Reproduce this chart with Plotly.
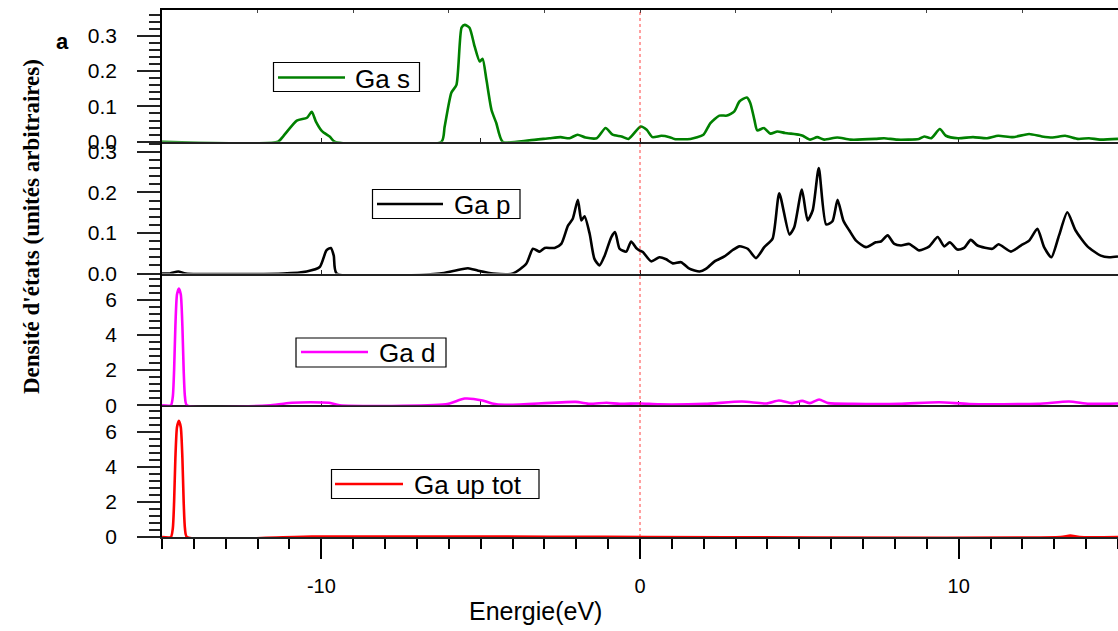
import plotly.graph_objects as go

# ---------------- data ----------------
ga_s_E = [-15.0, -11.36, -11.21, -10.77, -10.45, -10.30, -10.17, -9.98, -9.73, -9.58,
          -6.23, -6.13, -5.92, -5.76, -5.60, -5.50, -5.35, -5.19, -5.03, -4.94, -4.82,
          -4.66, -4.51, -4.31, -3.47, -2.84, -2.49, -2.21, -1.96, -1.71, -1.36, -1.08,
          -0.86, -0.58, -0.36, 0.02, 0.21, 0.39, 0.67, 0.93, 1.08, 1.58, 1.99, 2.21,
          2.49, 2.73, 2.96, 3.12, 3.35, 3.46, 3.59, 3.68, 3.89, 4.09, 4.31, 4.55, 5.00,
          5.11, 5.34, 5.56, 5.78, 6.19, 6.60, 7.38, 7.66, 8.07, 8.75, 8.92, 9.14, 9.41,
          9.60, 9.98, 10.45, 10.89, 11.24, 11.70, 12.21, 12.61, 12.95, 13.34, 13.75,
          14.09, 14.43, 15.0]
ga_s_dos = [0, 0, 0.014, 0.060, 0.068, 0.085, 0.057, 0.030, 0.014, 0.0,
            0, 0.043, 0.139, 0.161, 0.323, 0.331, 0.323, 0.27, 0.227, 0.235, 0.176,
            0.09, 0.053, 0.0, 0.004, 0.010, 0.013, 0.010, 0.020, 0.012, 0.010, 0.039,
            0.020, 0.015, 0.008, 0.043, 0.034, 0.013, 0.017, 0.013, 0.008, 0.008, 0.020, 0.053,
            0.074, 0.074, 0.086, 0.114, 0.125, 0.110, 0.062, 0.032, 0.039, 0.023, 0.029, 0.025, 0.020,
            0.017, 0.006, 0.013, 0.006, 0.012, 0.006, 0.008, 0.010, 0.006, 0.008, 0.015, 0.010, 0.036,
            0.017, 0.010, 0.013, 0.010, 0.017, 0.013, 0.022, 0.015, 0.012, 0.017, 0.008,
            0.010, 0.006, 0.008]

ga_p_E = [-15.0, -14.75, -14.49, -14.25, -11.2, -10.46, -10.05, -9.84, -9.70, -9.61, -9.52,
          -6.29, -5.82, -5.40, -5.08, -4.61, -3.99, -3.57, -3.36, -3.15, -2.99, -2.68,
          -2.47, -2.26, -2.11, -1.95, -1.84, -1.74, -1.58, -1.43, -1.27, -1.11, -0.90,
          -0.78, -0.64, -0.43, -0.28, -0.12, -0.02, 0.09, 0.35, 0.61, 0.82, 1.03, 1.29,
          1.55, 1.87, 2.08, 2.34, 2.65, 2.91, 3.12, 3.38, 3.64, 3.90, 4.16, 4.37, 4.69,
          4.84, 5.08, 5.26, 5.42, 5.61, 5.84, 6.04, 6.20, 6.38, 6.57, 6.78, 7.09, 7.40,
          7.56, 7.77, 7.98, 8.19, 8.45, 8.76, 9.08, 9.34, 9.55, 9.72, 9.96, 10.17, 10.38,
          10.59, 11.06, 11.25, 11.64, 11.95, 12.21, 12.47, 12.68, 12.91, 13.15, 13.41,
          13.67, 14.04, 14.46, 14.72, 15.0]
ga_p_dos = [0, 0, 0.005, 0, 0, 0.005, 0.016, 0.057, 0.063, 0.044, 0.0,
            0, 0.007, 0.013, 0.007, 0, 0, 0.024, 0.061, 0.054, 0.063, 0.063,
            0.073, 0.118, 0.135, 0.182, 0.131, 0.141, 0.098, 0.036, 0.020, 0.044, 0.090,
            0.102, 0.061, 0.054, 0.079, 0.063, 0.057, 0.053, 0.030, 0.040, 0.035, 0.025, 0.028,
            0.012, 0.005, 0.012, 0.030, 0.042, 0.058, 0.067, 0.061, 0.038, 0.065, 0.086, 0.198, 0.096,
            0.114, 0.207, 0.131, 0.156, 0.260, 0.121, 0.129, 0.182, 0.131, 0.106, 0.081, 0.065, 0.077,
            0.079, 0.094, 0.073, 0.069, 0.073, 0.057, 0.067, 0.090, 0.067, 0.077, 0.059, 0.063, 0.083,
            0.069, 0.061, 0.072, 0.054, 0.069, 0.081, 0.110, 0.065, 0.040, 0.094, 0.151,
            0.106, 0.067, 0.044, 0.040, 0.042]

ga_d_E = [-15.0, -14.72, -14.66, -14.62, -14.58, -14.53, -14.47, -14.41, -14.36, -14.32,
          -14.28, -14.22, -11.6, -10.92, -10.34, -9.77, -9.42, -6.10, -5.50, -4.94, -4.64,
          -4.25, -2.02, -1.58, -1.05, -0.64, 0.0, 0.6, 2.04, 3.2, 3.97, 4.36, 4.75, 5.09,
          5.33, 5.62, 5.91, 6.68, 8.13, 9.39, 10.33, 12.49, 13.46, 14.09, 15.0]
ga_d_dos = [0, 0, 0.5, 2.0, 4.5, 6.3, 6.65, 6.3, 4.5, 2.0,
            0.5, 0, 0, 0.14, 0.17, 0.14, 0, 0.05, 0.38, 0.27, 0.1,
            0.02, 0.19, 0.08, 0.14, 0.08, 0.1, 0.05, 0.08, 0.21, 0.1, 0.27, 0.12, 0.25,
            0.12, 0.33, 0.12, 0.08, 0.08, 0.17, 0.07, 0.08, 0.21, 0.08, 0.1]

ga_tot_E = [-15.0, -14.72, -14.66, -14.62, -14.58, -14.53, -14.47, -14.41, -14.36, -14.32,
            -14.28, -14.22, -10.3, -5.5, 13.2, 13.5, 13.8, 15.0]
ga_tot_dos = [0, 0, 0.5, 2.0, 4.5, 6.25, 6.62, 6.25, 4.5, 2.0,
              0.5, 0, 0.02, 0.03, 0.0, 0.08, 0.0, 0.0]

legend_names = ["Ga s", "Ga p", "Ga d", "Ga up tot"]
colors = ["#008000", "#000000", "#FF00FF", "#FF0000"]

x_tick_vals = [-10, 0, 10]
x_tick_text = ["-10", "0", "10"]
y_ticks_small = [0.0, 0.1, 0.2, 0.3]
y_ticks_small_text = ["0.0", "0.1", "0.2", "0.3"]
y_ticks_big = [0, 2, 4, 6]
y_ticks_big_text = ["0", "2", "4", "6"]

x_title = "Energie(eV)"
y_title = "Densité d'états (unités arbitraires)"
panel_letter = "a"

# ---------------- layout helpers ----------------
W, H = 1118, 631
ML, MR, MT, MB = 162, 0, 10, 94
PW = W - ML - MR
PH = H - MT - MB


def px(x):
    return (x - ML) / PW


def py(y):
    return (H - MB - y) / PH


fig = go.Figure()
series = [(ga_s_E, ga_s_dos), (ga_p_E, ga_p_dos), (ga_d_E, ga_d_dos), (ga_tot_E, ga_tot_dos)]
axes_ids = ["", "2", "3", "4"]
for (ex, dy), name, col, aid in zip(series, legend_names, colors, axes_ids):
    fig.add_trace(go.Scatter(
        x=ex, y=dy, mode="lines", name=name, showlegend=False,
        xaxis="x" + aid, yaxis="y" + aid,
        line=dict(color=col, width=2.6, shape="spline", smoothing=0.6),
    ))
# empty trace for the top border axis
fig.add_trace(go.Scatter(x=[], y=[], xaxis="x5", yaxis="y", showlegend=False, hoverinfo="skip"))

tick_font = dict(family="Liberation Sans, Arial, sans-serif", size=21, color="black")
domains = [[0.75, 1.0], [0.5, 0.75], [0.25, 0.5], [0.0, 0.25]]
yranges = [[0, 0.373], [0, 0.325], [0, 7.5], [0, 7.5]]

layout = dict(
    width=W, height=H,
    margin=dict(l=ML, r=MR, t=MT, b=MB),
    plot_bgcolor="white", paper_bgcolor="white",
    showlegend=False,
)

for i, aid in enumerate(axes_ids):
    xa = dict(
        domain=[0, 1], anchor="y" + aid, range=[-15, 15],
        showgrid=False, zeroline=False, showline=True,
        linecolor="#222222", linewidth=2, layer="below traces",
    )
    if i < 3:
        xa.update(ticks="inside", tickmode="linear", tick0=0, dtick=5, ticklen=4,
                  tickcolor="#222222", showticklabels=False)
    else:
        xa.update(ticks="outside", tickmode="array", tickvals=x_tick_vals, ticktext=x_tick_text,
                  ticklen=20, tickwidth=1.5, tickcolor="black",
                  tickfont=dict(family="Liberation Sans, Arial, sans-serif", size=20, color="black"),
                  ticklabelstandoff=10,
                  minor=dict(dtick=1, tick0=0, ticks="outside", ticklen=10, tickwidth=1.5,
                             tickcolor="black"))
    small = i < 2
    ya = dict(
        domain=domains[i], anchor="x" + aid, range=yranges[i],
        showgrid=False, zeroline=False, showline=True,
        linecolor="black", linewidth=1.5,
        ticks="outside", ticklen=23, tickwidth=1.5, tickcolor="#222222",
        tickmode="array",
        tickvals=y_ticks_small if small else y_ticks_big,
        ticktext=y_ticks_small_text if small else y_ticks_big_text,
        tickfont=tick_font, ticklabelstandoff=16,
        minor=dict(dtick=0.02 if small else 0.4, tick0=0, ticks="outside", ticklen=11,
                   tickwidth=1.5, tickcolor="#222222"),
    )
    layout["xaxis" + aid] = xa
    layout["yaxis" + aid] = ya

layout["xaxis5"] = dict(
    overlaying="x", anchor="y", side="top", range=[-15, 15],
    showgrid=False, zeroline=False, showline=True, linecolor="black", linewidth=1.5,
    ticks="inside", tickmode="linear", tick0=0, dtick=3, ticklen=3, tickcolor="#444444",
    showticklabels=False,
)

fig.update_layout(**layout)

# legend boxes (pixel positions measured on reference)
leg_boxes = [
    (273.5, 419.5, 62.5, 91.5, 278, 345, 77.5, 353),
    (372.5, 520, 189.5, 218.5, 377, 443, 204, 452),
    (296, 446, 338, 367, 301, 368, 352, 377),
    (331.5, 539, 469.5, 498.5, 335, 403, 484, 412),
]
shapes = []
annotations = []
for (bx0, bx1, by0, by1, lx0, lx1, ly, tx), name, col in zip(leg_boxes, legend_names, colors):
    shapes.append(dict(type="rect", xref="paper", yref="paper",
                       x0=px(bx0), x1=px(bx1), y0=py(by1), y1=py(by0),
                       line=dict(color="black", width=1.2), fillcolor="white", layer="above"))
    shapes.append(dict(type="line", xref="paper", yref="paper",
                       x0=px(lx0), x1=px(lx1), y0=py(ly), y1=py(ly),
                       line=dict(color=col, width=2.6), layer="above"))
    annotations.append(dict(xref="paper", yref="paper", x=px(tx), y=py(ly + 1),
                            xanchor="left", yanchor="middle", showarrow=False, text=name,
                            font=dict(family="Liberation Sans, Arial, sans-serif", size=26,
                                      color="black")))

# Fermi level line
shapes.append(dict(type="line", xref="x4", yref="paper", x0=0, x1=0, y0=0, y1=1,
                   line=dict(color="rgba(255,0,0,0.75)", width=1, dash="dot"), layer="above"))

annotations.append(dict(xref="paper", yref="paper", x=px(31), y=py(227),
                        xanchor="center", yanchor="middle", showarrow=False, textangle=-90,
                        text="<b>" + y_title + "</b>",
                        font=dict(family="Liberation Serif, Times New Roman, serif", size=23,
                                  color="black")))
annotations.append(dict(xref="paper", yref="paper", x=px(62), y=py(42),
                        xanchor="center", yanchor="middle", showarrow=False,
                        text="<b>" + panel_letter + "</b>",
                        font=dict(family="Liberation Sans, Arial, sans-serif", size=22,
                                  color="black")))
annotations.append(dict(xref="paper", yref="paper", x=px(535), y=py(611),
                        xanchor="center", yanchor="middle", showarrow=False, text=x_title,
                        font=dict(family="Liberation Sans, Arial, sans-serif", size=25,
                                  color="black")))

fig.update_layout(shapes=shapes, annotations=annotations)
fig.write_html("out.html", config={"displayModeBar": False},
               post_script="document.body.style.margin='0';document.body.style.overflow='hidden';")
